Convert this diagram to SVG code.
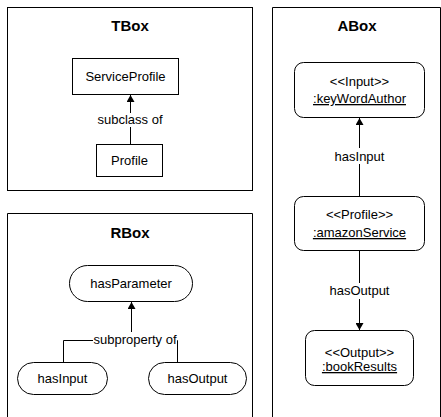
<svg xmlns="http://www.w3.org/2000/svg" width="441" height="417" viewBox="0 0 441 417">
<style>
.frame{fill:none;stroke:#000;stroke-width:1}
.node{fill:#fff;stroke:#000;stroke-width:1}
.t{font-family:"Liberation Sans",Arial,sans-serif;font-size:13px;text-anchor:middle;fill:#000}
.title{font-family:"Liberation Sans",Arial,sans-serif;font-size:15px;font-weight:bold;text-anchor:middle;fill:#000}
.edge{fill:none;stroke:#000;stroke-width:1}
.lbg{fill:#fff}
.u{text-decoration:underline}
</style>
<defs>
<marker id="arr" viewBox="0 0 7 8" refX="7" refY="4" markerWidth="7" markerHeight="8" orient="auto" markerUnits="userSpaceOnUse"><path d="M0,0 L7,4 L0,8 z" fill="#000"/></marker>
</defs>
<g id="frames">
<g id="tbox"><rect class="frame" x="7.5" y="7.5" width="245" height="183"/><text class="title" x="130" y="31">TBox</text></g>
<g id="rbox"><path class="frame" d="M7.5,417 V213.5 H252.5 V417"/><text class="title" x="130" y="238">RBox</text></g>
<g id="abox"><path class="frame" d="M272.5,417 V7.5 H440.5 V417"/><text class="title" x="357" y="31">ABox</text></g>
</g>
<g id="connectors">
<path class="edge" d="M130.5,144 V95" marker-end="url(#arr)"/>
<rect class="lbg" x="97" y="113" width="66" height="14"/>
<text class="t" x="130" y="124">subclass of</text>
<path class="edge" d="M63.5,362 V340.5 H131.5 V302" marker-end="url(#arr)"/>
<path class="edge" d="M177.5,362 V340.5 H131.5"/>
<rect class="lbg" x="93" y="332" width="84" height="15"/>
<text class="t" x="135" y="344">subproperty of</text>
<path class="edge" d="M359.5,196 V118" marker-end="url(#arr)"/>
<rect class="lbg" x="331" y="148" width="57" height="16"/>
<text class="t" x="359.5" y="161">hasInput</text>
<path class="edge" d="M359.5,251 V330" marker-end="url(#arr)"/>
<rect class="lbg" x="329" y="283" width="61" height="16"/>
<text class="t" x="359.5" y="295">hasOutput</text>
</g>
<g id="ServiceProfile"><rect class="node" x="72.5" y="58.5" width="106" height="36"/><text class="t" x="125.5" y="81">ServiceProfile</text></g>
<g id="Profile"><rect class="node" x="96.5" y="144.5" width="66" height="32"/><text class="t" x="129.5" y="165">Profile</text></g>
<g id="hasParameter"><rect class="node" x="69.5" y="265.5" width="123" height="36" rx="18"/><text class="t" x="131" y="288">hasParameter</text></g>
<g id="hasInput"><rect class="node" x="17.5" y="362.5" width="90" height="32" rx="16"/><text class="t" x="62.5" y="383">hasInput</text></g>
<g id="hasOutput"><rect class="node" x="148.5" y="362.5" width="98" height="32" rx="16"/><text class="t" x="197.5" y="383">hasOutput</text></g>
<g id="keyWordAuthor"><rect class="node" x="294.5" y="62.5" width="130" height="55" rx="9"/><text class="t" x="359.5" y="86">&lt;&lt;Input&gt;&gt;</text><text class="t u" x="359.5" y="103">:keyWordAuthor</text></g>
<g id="amazonService"><rect class="node" x="294.5" y="196.5" width="130" height="54" rx="9"/><text class="t" x="359.5" y="219">&lt;&lt;Profile&gt;&gt;</text><text class="t u" x="359.5" y="237">:amazonService</text></g>
<g id="bookResults"><rect class="node" x="305.5" y="330.5" width="108" height="55" rx="9"/><text class="t" x="359.5" y="357">&lt;&lt;Output&gt;&gt;</text><text class="t u" x="359.5" y="371">:bookResults</text></g>
</svg>
